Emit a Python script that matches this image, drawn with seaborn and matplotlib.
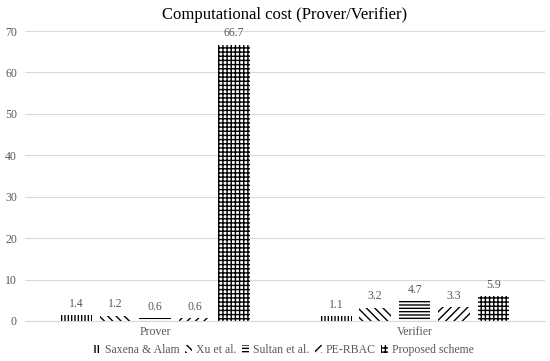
import pandas as pd
import matplotlib.pyplot as plt
import matplotlib.patches as mpatches
import seaborn as sns

roles = ["Prover", "Verifier"]
schemes = ["Saxena & Alam", "Xu et al.", "Sultan et al.", "PE-RBAC", "Proposed scheme"]
prover_cost = [1.4, 1.2, 0.6, 0.6, 66.7]
verifier_cost = [1.1, 3.2, 4.7, 3.3, 5.9]
hatches = ["|||||", "\\\\\\\\", "-----", "////", "++++"]

df = pd.DataFrame({
    "role": [roles[0]] * len(schemes) + [roles[1]] * len(schemes),
    "scheme": schemes * 2,
    "cost": prover_cost + verifier_cost,
})

sns.set_style("white")
plt.rcParams["font.family"] = ["Liberation Serif", "DejaVu Serif"]
plt.rcParams["hatch.linewidth"] = 1.0

fig = plt.figure(figsize=(5.5, 3.61), dpi=100)
ax = fig.add_axes([0.046, 0.111, 0.944, 0.803])

sns.barplot(data=df, x="role", y="cost", hue="scheme", hue_order=schemes,
            width=0.76, gap=0.2, ax=ax, legend=False,
            palette=["white"] * len(schemes))

grey = "#595959"
for i, cont in enumerate(ax.containers):
    for bar in cont:
        bar.set_hatch(hatches[i])
        bar.set_edgecolor("black")
        bar.set_linewidth(0)
    ax.bar_label(cont, labels=[f"{v:.1f}" for v in cont.datavalues],
                 padding=4, fontsize=8.5, color=grey)

ax.set_ylim(0, 70)
ax.set_yticks(range(0, 71, 10))
ax.yaxis.grid(True, color="#d9d9d9", linewidth=0.8)
ax.set_axisbelow(True)
for s in ["top", "right", "left"]:
    ax.spines[s].set_visible(False)
ax.spines["bottom"].set_color("#d9d9d9")
ax.tick_params(axis="both", length=0, labelsize=8.5, colors=grey, pad=6)
ax.tick_params(axis="x", pad=4)
ax.set_xlabel("")
ax.set_ylabel("")
ax.set_title("Computational cost (Prover/Verifier)", fontsize=12, color="black", pad=9)

handles = [mpatches.Patch(facecolor="white", edgecolor="black", linewidth=0,
                          hatch=h, label=s) for h, s in zip(hatches, schemes)]
fig.legend(handles=handles, loc="center", ncol=5, frameon=False,
           fontsize=8.5, bbox_to_anchor=(0.516, 0.03), handlelength=0.6,
           handleheight=0.7, columnspacing=0.5, handletextpad=0.3,
           labelcolor=grey, borderpad=0.1)

fig.savefig("out.png", dpi=100)
